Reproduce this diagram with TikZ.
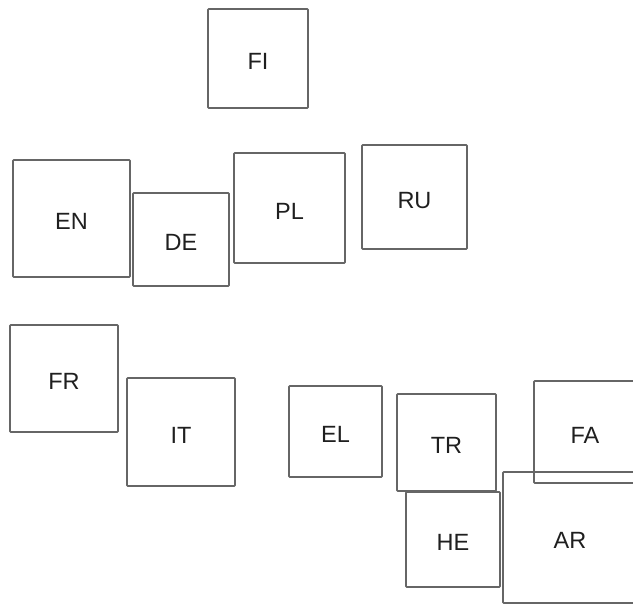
\documentclass[tikz,border=0pt]{standalone}
\usepackage{fontspec}
\setmainfont{Liberation Sans}
\begin{document}
\begin{tikzpicture}[x=1pt,y=-1pt,
  langbox/.style={draw=black!60, line width=1.6pt, rounded corners=0.8pt,
    inner sep=0pt, outer sep=0pt, text=black!88,
    font=\fontsize{23.5}{23.5}\selectfont,
    text height=22.8pt, text depth=0pt}]
\useasboundingbox (0,0) rectangle (633,604);
\clip (0,0) rectangle (633,604);
% language boxes: centre, width, height
\node[langbox, minimum width=100pt, minimum height=99pt]  (fi) at (258,58.5)   {FI};
\node[langbox, minimum width=117pt, minimum height=117pt] (en) at (71.5,218.5) {EN};
\node[langbox, minimum width=96pt,  minimum height=93pt]  (de) at (181,239.5)  {DE};
\node[langbox, minimum width=111pt, minimum height=110pt] (pl) at (289.5,208)  {PL};
\node[langbox, minimum width=105pt, minimum height=104pt] (ru) at (414.5,197)  {RU};
\node[langbox, minimum width=108pt, minimum height=107pt] (fr) at (64,378.5)   {FR};
\node[langbox, minimum width=108pt, minimum height=108pt] (it) at (181,432)    {IT};
\node[langbox, minimum width=93pt,  minimum height=91pt]  (el) at (335.5,431.5) {EL};
\node[langbox, minimum width=99pt,  minimum height=97pt]  (tr) at (446.5,442.5) {TR};
\node[langbox, minimum width=102pt, minimum height=102pt] (fa) at (585,432)    {FA};
\node[langbox, minimum width=94pt,  minimum height=95pt]  (he) at (453,539.5)  {HE};
\node[langbox, minimum width=134pt, minimum height=131pt] (ar) at (570,537.5)  {AR};
\end{tikzpicture}
\end{document}
